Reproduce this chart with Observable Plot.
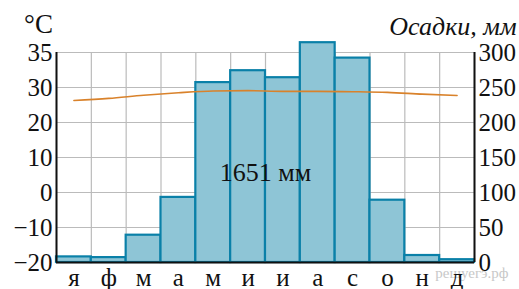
<!DOCTYPE html>
<html><head><meta charset="utf-8">
<script src="https://cdn.jsdelivr.net/npm/d3@7"></script>
<script src="https://cdn.jsdelivr.net/npm/@observablehq/plot@0.6"></script>
<style>body{margin:0;background:#fff} svg text{font-family:"Liberation Serif","Times New Roman",serif}</style>
</head><body><div id="chart"></div>
<script>
const months = ["я","ф","м","а","м","и","и","а","с","о","н","д"];
const precip = [8,7,39,93,257,274,264,314,292,89,10,4];
const temp = [26.3,26.9,27.8,28.5,29.0,29.1,28.9,28.9,28.8,28.6,28.1,27.7];
const precipTicks = [0,50,100,150,200,250,300];
const tempTickLabels = ["−20","−10","0","10","20","30","35"];
const totalLabel = "1651 мм";

const font = "Liberation Serif";
const idx = months.map((_, i) => i);
const toMM = t => (t + 20) * 5;

const chart = Plot.plot({
  width: 519, height: 289,
  marginLeft: 56, marginRight: 45, marginTop: 52, marginBottom: 27,
  x: {domain: [0, 12], axis: null},
  y: {domain: [0, 300], axis: null},
  style: {background: "white", overflow: "visible"},
  marks: [
    Plot.ruleY(precipTicks, {x1: 0, x2: 12, stroke: "#bbbbbb", strokeWidth: 1.2}),
    Plot.ruleX(d3.range(13), {y1: 0, y2: 300, stroke: "#bbbbbb", strokeWidth: 1.2}),
    Plot.rect(idx, {x1: i => i, x2: i => i + 1, y1: 0, y2: i => precip[i], fill: "#8ec5d6", stroke: "#0a80a8", strokeWidth: 2.2}),
    Plot.line(idx, {x: i => i + 0.5, y: i => toMM(temp[i]), stroke: "#d9822b", strokeWidth: 1.6, curve: "monotone-x"}),
    Plot.ruleX([0, 12], {y1: 0, y2: 300, stroke: "#111", strokeWidth: 2}),
    Plot.ruleY([0], {x1: 0, x2: 12, stroke: "#111", strokeWidth: 2}),
    Plot.text(["решуегэ.рф"], {frameAnchor: "bottom-right", textAnchor: "end", lineAnchor: "middle", dx: 34, dy: 11, fontSize: 15, fontFamily: "DejaVu Sans", fill: "#c8c8c8"}),
    Plot.text(idx, {x: i => i + 0.5, y: 0, text: i => months[i], dy: 15, fontSize: 25, fontFamily: font, fill: "#111"}),
    Plot.text(precipTicks, {x: 0, y: d => d, text: (d, i) => tempTickLabels[i], textAnchor: "end", dx: -4, fontSize: 25, fontFamily: font, fill: "#111"}),
    Plot.text(precipTicks, {x: 12, y: d => d, text: d => String(d), textAnchor: "start", dx: 4, fontSize: 25, fontFamily: font, fill: "#111"}),
    Plot.text([totalLabel], {x: 6, y: 128, text: d => d, fontSize: 26, fontFamily: font, fill: "#111"}),
    Plot.text(["°C"], {frameAnchor: "top-left", textAnchor: "middle", lineAnchor: "middle", dx: -18, dy: -28, fontSize: 27, fontFamily: font, fill: "#111"}),
    Plot.text(["Осадки, мм"], {frameAnchor: "top-right", textAnchor: "end", lineAnchor: "middle", dx: 42, dy: -26, fontSize: 26, fontStyle: "italic", fontFamily: font, fill: "#111"})
  ]
});
document.getElementById("chart").appendChild(chart);
</script></body></html>
